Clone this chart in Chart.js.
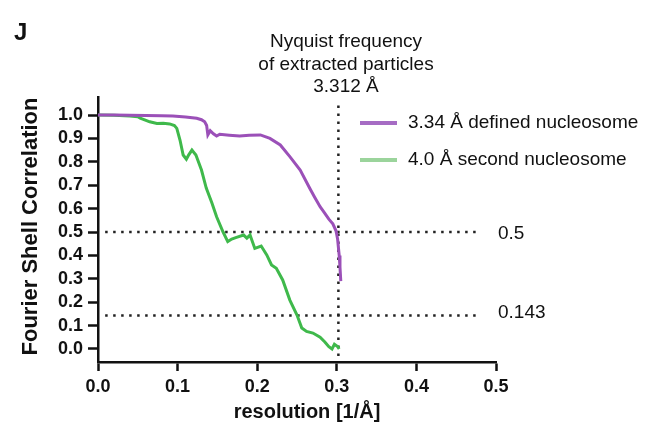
<!DOCTYPE html>
<html>
<head>
<meta charset="utf-8">
<script src="https://cdn.jsdelivr.net/npm/chart.js@4.4.1/dist/chart.umd.min.js"></script>
<style>
  html, body { margin: 0; padding: 0; background: #fff; }
  #wrap { width: 648px; height: 438px; }
</style>
</head>
<body>
<div id="wrap"><canvas id="fsc" width="648" height="438"></canvas></div>
<script>
// FSC curves
const freqDefined = [0, 0.02, 0.04, 0.06, 0.08, 0.094, 0.11, 0.124, 0.13, 0.134, 0.1365, 0.138, 0.141, 0.145, 0.149, 0.153, 0.165, 0.178, 0.19, 0.204, 0.216, 0.229, 0.241, 0.254, 0.266, 0.272, 0.279, 0.285, 0.29, 0.295, 0.299, 0.301, 0.303, 0.304, 0.305];
const fscDefined  = [1.0, 1.0, 0.999, 0.998, 0.997, 0.996, 0.992, 0.986, 0.98, 0.971, 0.955, 0.915, 0.933, 0.92, 0.91, 0.918, 0.914, 0.91, 0.913, 0.915, 0.9, 0.872, 0.822, 0.765, 0.687, 0.65, 0.608, 0.58, 0.555, 0.535, 0.505, 0.47, 0.4, 0.35, 0.29];
const freqSecond = [0, 0.02, 0.04, 0.05, 0.053, 0.065, 0.074, 0.082, 0.09, 0.096, 0.099, 0.103, 0.107, 0.111, 0.114, 0.118, 0.123, 0.13, 0.136, 0.143, 0.149, 0.157, 0.163, 0.168, 0.174, 0.183, 0.187, 0.191, 0.197, 0.205, 0.212, 0.218, 0.224, 0.232, 0.241, 0.25, 0.256, 0.262, 0.27, 0.279, 0.285, 0.29, 0.294, 0.297, 0.301, 0.303];
const fscSecond  = [1.0, 0.999, 0.996, 0.993, 0.987, 0.971, 0.964, 0.965, 0.962, 0.955, 0.943, 0.893, 0.829, 0.811, 0.83, 0.85, 0.829, 0.765, 0.688, 0.625, 0.565, 0.501, 0.459, 0.47, 0.477, 0.487, 0.474, 0.487, 0.43, 0.44, 0.402, 0.359, 0.345, 0.295, 0.209, 0.145, 0.09, 0.075, 0.068, 0.05, 0.03, 0.01, 0.0, 0.02, 0.01, 0.0];
const seriesNames = ['3.34 Å defined nucleosome', '4.0 Å second nucleosome'];

const thresholds = [0.5, 0.143];
const thresholdSpan = [0.009, 0.478];
const nyquistX = 0.302;
const nyquistSpan = [-0.03, 1.06];

const xTicks = [0, 0.1, 0.2, 0.3, 0.4, 0.5];
const yTicks = [0, 0.1, 0.2, 0.3, 0.4, 0.5, 0.6, 0.7, 0.8, 0.9, 1.0];
const titleLines = ['Nyquist frequency', 'of extracted particles', '3.312 Å'];

const FONT = '"Liberation Sans", Arial, Helvetica, sans-serif';
const PURPLE = '#9b50b8', GREEN = '#3fb94b';
const PURPLE_KEY = '#a66cc4', GREEN_KEY = '#9bd49c';

function pts(xs, ys){ return xs.map((x,i)=>({x, y: ys[i]})); }
function dotted(data){
  return { data, borderColor: '#222', borderWidth: 2.5, borderDash: [2.5, 5.5], pointRadius: 0, fill: false, order: 5 };
}

const guideSets = thresholds.map(t => dotted(thresholdSpan.map(x => ({x, y: t}))));
guideSets.push(dotted(nyquistSpan.map(y => ({x: nyquistX, y}))));

const labelsPlugin = {
  id: 'labels',
  afterDraw(chart){
    const ctx = chart.ctx, ys = chart.scales.y, a = chart.chartArea;
    ctx.save();
    ctx.fillStyle = '#111';
    // panel letter
    ctx.font = 'bold 24px ' + FONT;
    ctx.textAlign = 'left'; ctx.textBaseline = 'alphabetic';
    ctx.fillText('J', 14, 40);
    // Nyquist note
    ctx.font = '19px ' + FONT;
    ctx.textAlign = 'center';
    titleLines.forEach((t,i)=> ctx.fillText(t, 346, 47 + i*22.5));
    // threshold labels
    ctx.textAlign = 'left'; ctx.textBaseline = 'middle';
    thresholds.forEach((t,i)=> ctx.fillText(String(t), 498, ys.getPixelForValue(t) + (i===0 ? 2 : -3)));
    // axis titles
    ctx.font = 'bold 20px ' + FONT;
    ctx.textAlign = 'center';
    ctx.fillText('resolution [1/Å]', 307, 412);
    ctx.save();
    ctx.translate(31, (a.top + a.bottom)/2 - 3);
    ctx.rotate(-Math.PI/2);
    ctx.font = 'bold 22px ' + FONT;
    ctx.fillText('Fourier Shell Correlation', 0, 0);
    ctx.restore();
    // legend
    const keys = [PURPLE_KEY, GREEN_KEY];
    ctx.font = '19px ' + FONT;
    ctx.textAlign = 'left';
    seriesNames.forEach((n,i)=>{
      const y = 123 + i*37;
      ctx.strokeStyle = keys[i]; ctx.lineWidth = 4;
      ctx.beginPath(); ctx.moveTo(360, y); ctx.lineTo(397, y); ctx.stroke();
      ctx.fillText(n, 408, y);
    });
    ctx.restore();
  }
};

new Chart(document.getElementById('fsc'), {
  type: 'line',
  data: {
    datasets: [
      { label: seriesNames[0], data: pts(freqDefined, fscDefined), borderColor: PURPLE, borderWidth: 3, pointRadius: 0, tension: 0, order: 1 },
      { label: seriesNames[1], data: pts(freqSecond, fscSecond), borderColor: GREEN, borderWidth: 3, pointRadius: 0, tension: 0, order: 2 },
      ...guideSets
    ]
  },
  options: {
    responsive: false,
    animation: false,
    layout: { padding: { left: 0, top: 97, right: 152, bottom: 0 } },
    plugins: { legend: { display: false }, title: { display: false }, tooltip: { enabled: false } },
    scales: {
      x: {
        type: 'linear', min: 0, max: 0.5,
        afterFit(s){ s.height = 76; },
        afterBuildTicks(s){ s.ticks = xTicks.map(v=>({value: v})); },
        border: { display: true, color: '#111', width: 2.5 },
        grid: { drawOnChartArea: false, drawTicks: true, tickLength: 9, tickWidth: 2.5, tickColor: '#111' },
        ticks: { autoSkip: false, maxRotation: 0, padding: 5, color: '#111', font: { family: FONT, size: 18, weight: 'bold' }, callback: v => v.toFixed(1) }
      },
      y: {
        min: -0.0556, max: 1.077,
        afterFit(s){ s.width = 98; },
        afterBuildTicks(s){ s.ticks = yTicks.map(v=>({value: v})); },
        border: { display: true, color: '#111', width: 2.5 },
        grid: { drawOnChartArea: false, drawTicks: true, tickLength: 10, tickWidth: 2.5, tickColor: '#111' },
        ticks: { padding: 5, color: '#111', font: { family: FONT, size: 18, weight: 'bold' }, callback: v => v.toFixed(1) }
      }
    }
  },
  plugins: [labelsPlugin]
});
</script>
</body>
</html>
